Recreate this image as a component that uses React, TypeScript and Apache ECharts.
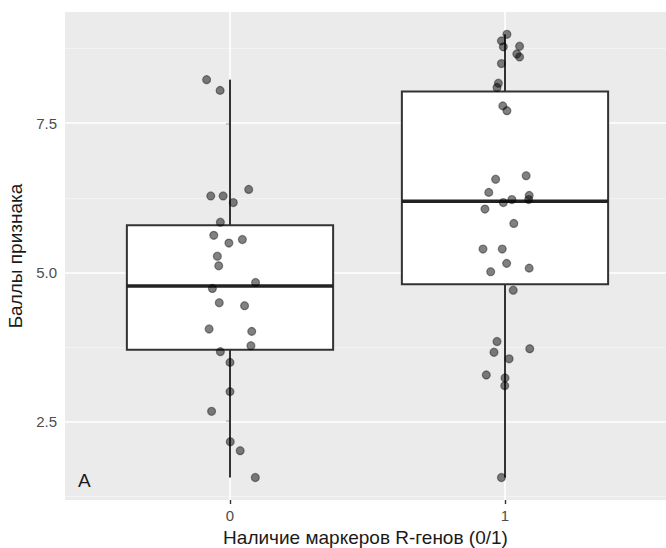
import React, { useEffect, useRef } from "react";
import * as echarts from "echarts";

const categories = ["0", "1"];
const yTicks = [2.5, 5.0, 7.5];
const yMinorTicks = [1.25, 3.75, 6.25, 8.75];

// jitter offsets (x, relative to category) and scores, group "0"
const jitter0 = [-0.085, -0.036, 0.068, -0.07, -0.025, 0.012, -0.035, -0.059, 0.045, -0.004, -0.046, -0.041, 0.093, -0.064, -0.039, 0.053, -0.076, 0.079, 0.076, -0.035, 0.0, 0.0, -0.067, 0.001, 0.037, 0.092];
const score0 = [8.23, 8.05, 6.39, 6.28, 6.28, 6.17, 5.84, 5.62, 5.55, 5.49, 5.27, 5.11, 4.83, 4.73, 4.49, 4.44, 4.05, 4.01, 3.77, 3.67, 3.49, 3.0, 2.67, 2.16, 2.01, 1.56];

// group "1"
const jitter1 = [0.007, -0.013, -0.006, 0.053, 0.043, 0.053, -0.013, -0.024, -0.029, -0.008, 0.007, 0.077, -0.034, -0.059, 0.088, 0.025, 0.086, -0.006, -0.073, 0.032, -0.08, -0.01, 0.006, 0.088, -0.052, 0.03, -0.029, 0.09, -0.04, 0.015, -0.068, 0.0, -0.001, -0.013];
const score1 = [8.99, 8.88, 8.78, 8.79, 8.66, 8.61, 8.5, 8.17, 8.1, 7.79, 7.71, 6.62, 6.56, 6.34, 6.29, 6.22, 6.22, 6.17, 6.06, 5.82, 5.39, 5.39, 5.15, 5.07, 5.01, 4.7, 3.84, 3.72, 3.66, 3.55, 3.28, 3.23, 3.1, 1.56];

// box statistics per category
const whiskerLow = [1.56, 1.56];
const q1 = [3.7, 4.8];
const median = [4.77, 6.19];
const q3 = [5.79, 8.03];
const whiskerHigh = [8.23, 8.99];

const FONT = "'Liberation Sans', Arial, Helvetica, sans-serif";

export default function App() {
  const ref = useRef<HTMLDivElement>(null);

  useEffect(() => {
    if (!ref.current) return;
    const chart = echarts.init(ref.current, null, { renderer: "svg" });

    const boxData = categories.map((_, i) => [i, whiskerLow[i], q1[i], median[i], q3[i], whiskerHigh[i]]);
    const points = [
      ...score0.map((v, i) => [0 + jitter0[i], v]),
      ...score1.map((v, i) => [1 + jitter1[i], v]),
    ];

    const gridLines = [
      ...yMinorTicks.map((v) => ({ yAxis: v, lineStyle: { color: "#f5f5f5", width: 0.8, type: "solid" } })),
      ...yTicks.map((v) => ({ yAxis: v, lineStyle: { color: "#ffffff", width: 1.6, type: "solid" } })),
      ...categories.map((_, i) => ({ xAxis: i, lineStyle: { color: "#ffffff", width: 1.6, type: "solid" } })),
    ];

    const option: any = {
      animation: false,
      backgroundColor: "#ffffff",
      grid: {
        left: 65,
        top: 12,
        right: 0,
        bottom: 48,
        outerBoundsMode: "none",
        containLabel: false,
        show: true,
        backgroundColor: "#EBEBEB",
        borderWidth: 0,
      },
      xAxis: {
        type: "value",
        min: -0.6,
        max: 1.5855,
        name: "Наличие маркеров R-генов (0/1)",
        nameLocation: "middle",
        nameGap: 28,
        nameTextStyle: { fontFamily: FONT, fontSize: 19, color: "#1a1a1a" },
        axisLine: { show: false },
        splitLine: { show: false },
        axisTick: { show: true, customValues: [0, 1], length: 4, lineStyle: { color: "#333333", width: 1.4 } },
        axisLabel: {
          customValues: [0, 1],
          formatter: (v: number) => categories[Math.round(v)] ?? "",
          fontFamily: FONT,
          fontSize: 15,
          color: "#4D4D4D",
          margin: 8,
        },
      },
      yAxis: {
        type: "value",
        min: 1.183,
        max: 9.364,
        name: "Баллы признака",
        nameLocation: "middle",
        nameGap: 38,
        nameTextStyle: { fontFamily: FONT, fontSize: 19, color: "#1a1a1a" },
        axisLine: { show: false },
        splitLine: { show: false },
        axisTick: { show: true, customValues: yTicks, length: 4, lineStyle: { color: "#333333", width: 1.4 } },
        axisLabel: {
          customValues: yTicks,
          formatter: (v: number) => v.toFixed(1),
          fontFamily: FONT,
          fontSize: 15,
          color: "#4D4D4D",
          margin: 8,
        },
      },
      graphic: [
        {
          type: "text",
          left: 78,
          top: 471,
          z: 20,
          style: { text: "A", fontFamily: FONT, fontSize: 19, fill: "#1a1a1a" },
        },
      ],
      series: [
        {
          type: "line",
          data: [],
          z: 1,
          silent: true,
          markLine: {
            silent: true,
            z: 1,
            symbol: ["none", "none"],
            label: { show: false },
            animation: false,
            data: gridLines,
          },
        },
        {
          type: "custom",
          z: 10,
          silent: true,
          encode: { x: 0, y: [1, 2, 3, 4, 5] },
          data: boxData,
          renderItem: (params: any, api: any) => {
            const x = api.value(0);
            const lo = api.value(1);
            const b1 = api.value(2);
            const med = api.value(3);
            const b3 = api.value(4);
            const hi = api.value(5);
            const hw = 0.375;
            const lt = api.coord([x - hw, b3]);
            const rb = api.coord([x + hw, b1]);
            const pHi = api.coord([x, hi]);
            const pLo = api.coord([x, lo]);
            const pQ3 = api.coord([x, b3]);
            const pQ1 = api.coord([x, b1]);
            const mL = api.coord([x - hw, med]);
            const mR = api.coord([x + hw, med]);
            const stroke = "#333333";
            return {
              type: "group",
              children: [
                { type: "line", shape: { x1: pHi[0], y1: pHi[1], x2: pQ3[0], y2: pQ3[1] }, style: { stroke, lineWidth: 2 } },
                { type: "line", shape: { x1: pLo[0], y1: pLo[1], x2: pQ1[0], y2: pQ1[1] }, style: { stroke, lineWidth: 2 } },
                {
                  type: "rect",
                  shape: { x: lt[0], y: lt[1], width: rb[0] - lt[0], height: rb[1] - lt[1] },
                  style: { fill: "#ffffff", stroke, lineWidth: 2 },
                },
                { type: "line", shape: { x1: mL[0], y1: mL[1], x2: mR[0], y2: mR[1] }, style: { stroke: "#222222", lineWidth: 3.5 } },
              ],
            };
          },
        },
        {
          type: "scatter",
          z: 12,
          data: points,
          symbol: "circle",
          symbolSize: 8,
          itemStyle: { color: "rgba(0,0,0,0.62)", borderColor: "rgba(0,0,0,0.5)", borderWidth: 1.2 },
        },
      ],
    };

    chart.setOption(option);
    return () => chart.dispose();
  }, []);

  return (
    <div
      ref={ref}
      style={{ position: "absolute", left: 0, top: 0, width: 666, height: 548 }}
    />
  );
}
